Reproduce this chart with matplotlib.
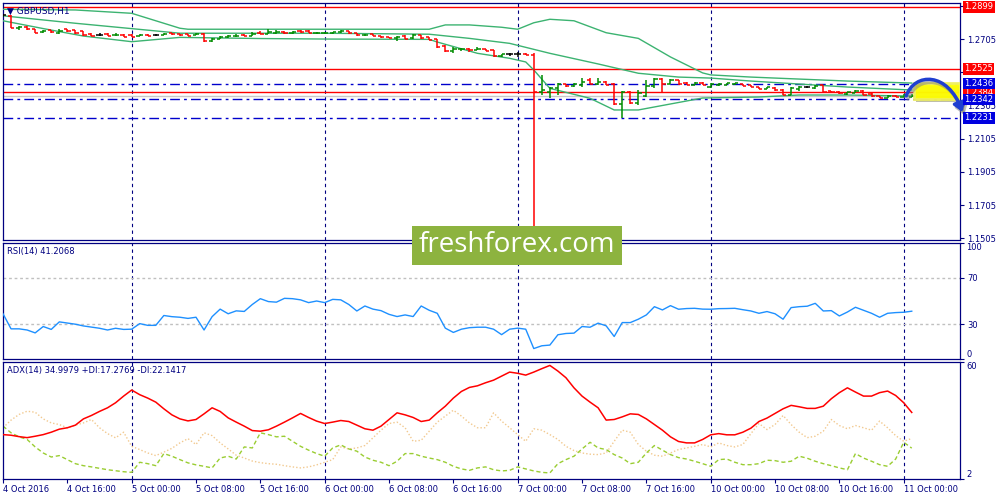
import numpy as np
import matplotlib.pyplot as plt
import matplotlib.transforms as mtransforms
from matplotlib.collections import LineCollection
from matplotlib.patches import Rectangle, FancyArrowPatch
from matplotlib.path import Path

plt.rcParams['font.family'] = ['DejaVu Sans']

# GBPUSD H1, barras desde 4 Oct 08:00 hasta 11 Oct 01:00
opens = [1.2850, 1.2844, 1.2771, 1.2777, 1.2765, 1.2747, 1.2759, 1.2741, 1.2765, 1.2759,
         1.2753, 1.2735, 1.2732, 1.2735, 1.2729, 1.2729, 1.2729, 1.2723, 1.2732, 1.2729,
         1.2729, 1.2741, 1.2735, 1.2735, 1.2729, 1.2735, 1.2693, 1.2705, 1.2717, 1.2723,
         1.2729, 1.2723, 1.2741, 1.2735, 1.2741, 1.2750, 1.2741, 1.2753, 1.2753, 1.2741,
         1.2741, 1.2741, 1.2747, 1.2753, 1.2741, 1.2729, 1.2735, 1.2723, 1.2717, 1.2711,
         1.2723, 1.2711, 1.2729, 1.2717, 1.2705, 1.2663, 1.2633, 1.2645, 1.2645, 1.2639,
         1.2645, 1.2639, 1.2603, 1.2615, 1.2615, 1.2615, 1.2609, 1.2386, 1.2386, 1.2410,
         1.2434, 1.2422, 1.2428, 1.2458, 1.2434, 1.2446, 1.2434, 1.2314, 1.2386, 1.2320,
         1.2362, 1.2422, 1.2464, 1.2434, 1.2458, 1.2440, 1.2428, 1.2440, 1.2416, 1.2428,
         1.2428, 1.2434, 1.2434, 1.2428, 1.2416, 1.2404, 1.2410, 1.2398, 1.2368, 1.2404,
         1.2416, 1.2410, 1.2428, 1.2392, 1.2386, 1.2374, 1.2380, 1.2392, 1.2374, 1.2362,
         1.2350, 1.2362, 1.2356, 1.2356]
highs = [1.2856, 1.2850, 1.2783, 1.2783, 1.2765, 1.2759, 1.2759, 1.2765, 1.2765, 1.2759,
         1.2756, 1.2741, 1.2741, 1.2741, 1.2741, 1.2735, 1.2735, 1.2735, 1.2735, 1.2735,
         1.2741, 1.2741, 1.2735, 1.2735, 1.2741, 1.2741, 1.2711, 1.2723, 1.2729, 1.2735,
         1.2738, 1.2747, 1.2753, 1.2765, 1.2759, 1.2753, 1.2753, 1.2759, 1.2759, 1.2747,
         1.2747, 1.2750, 1.2759, 1.2753, 1.2741, 1.2735, 1.2735, 1.2723, 1.2717, 1.2723,
         1.2729, 1.2735, 1.2729, 1.2720, 1.2705, 1.2669, 1.2657, 1.2651, 1.2654, 1.2657,
         1.2648, 1.2639, 1.2615, 1.2621, 1.2627, 1.2621, 1.2621, 1.2489, 1.2416, 1.2440,
         1.2437, 1.2440, 1.2470, 1.2470, 1.2470, 1.2452, 1.2440, 1.2392, 1.2392, 1.2398,
         1.2458, 1.2470, 1.2470, 1.2464, 1.2458, 1.2446, 1.2446, 1.2446, 1.2440, 1.2440,
         1.2440, 1.2440, 1.2434, 1.2428, 1.2416, 1.2416, 1.2416, 1.2404, 1.2416, 1.2422,
         1.2422, 1.2428, 1.2428, 1.2392, 1.2392, 1.2386, 1.2398, 1.2398, 1.2380, 1.2362,
         1.2368, 1.2368, 1.2374, 1.2374]
lows = [1.2838, 1.2771, 1.2759, 1.2762, 1.2741, 1.2741, 1.2741, 1.2735, 1.2750, 1.2735,
        1.2723, 1.2723, 1.2723, 1.2723, 1.2723, 1.2717, 1.2717, 1.2723, 1.2723, 1.2723,
        1.2729, 1.2729, 1.2726, 1.2723, 1.2729, 1.2687, 1.2687, 1.2705, 1.2714, 1.2717,
        1.2723, 1.2723, 1.2735, 1.2735, 1.2738, 1.2735, 1.2738, 1.2741, 1.2741, 1.2738,
        1.2738, 1.2738, 1.2744, 1.2735, 1.2726, 1.2723, 1.2723, 1.2714, 1.2711, 1.2693,
        1.2708, 1.2708, 1.2708, 1.2699, 1.2651, 1.2627, 1.2621, 1.2633, 1.2627, 1.2639,
        1.2630, 1.2597, 1.2597, 1.2603, 1.2597, 1.2609, 1.1540, 1.2368, 1.2350, 1.2368,
        1.2416, 1.2416, 1.2416, 1.2434, 1.2428, 1.2428, 1.2308, 1.2230, 1.2314, 1.2308,
        1.2356, 1.2410, 1.2380, 1.2434, 1.2428, 1.2428, 1.2428, 1.2428, 1.2410, 1.2422,
        1.2428, 1.2428, 1.2422, 1.2416, 1.2404, 1.2404, 1.2392, 1.2368, 1.2368, 1.2392,
        1.2410, 1.2404, 1.2380, 1.2380, 1.2377, 1.2368, 1.2380, 1.2368, 1.2356, 1.2350,
        1.2350, 1.2356, 1.2356, 1.2356]
closes = [1.2850, 1.2771, 1.2777, 1.2765, 1.2741, 1.2753, 1.2747, 1.2753, 1.2753, 1.2741,
          1.2729, 1.2723, 1.2732, 1.2723, 1.2732, 1.2720, 1.2717, 1.2729, 1.2726, 1.2729,
          1.2735, 1.2735, 1.2729, 1.2726, 1.2735, 1.2693, 1.2705, 1.2717, 1.2723, 1.2726,
          1.2723, 1.2735, 1.2735, 1.2747, 1.2747, 1.2741, 1.2747, 1.2747, 1.2741, 1.2744,
          1.2744, 1.2747, 1.2756, 1.2741, 1.2729, 1.2732, 1.2723, 1.2717, 1.2711, 1.2720,
          1.2708, 1.2729, 1.2711, 1.2699, 1.2657, 1.2633, 1.2645, 1.2648, 1.2639, 1.2645,
          1.2633, 1.2603, 1.2612, 1.2615, 1.2615, 1.2609, 1.2386, 1.2398, 1.2410, 1.2434,
          1.2422, 1.2434, 1.2446, 1.2434, 1.2446, 1.2428, 1.2314, 1.2386, 1.2320, 1.2380,
          1.2422, 1.2464, 1.2434, 1.2458, 1.2434, 1.2428, 1.2440, 1.2428, 1.2434, 1.2434,
          1.2440, 1.2440, 1.2422, 1.2416, 1.2404, 1.2416, 1.2398, 1.2368, 1.2410, 1.2416,
          1.2416, 1.2422, 1.2386, 1.2386, 1.2380, 1.2386, 1.2392, 1.2368, 1.2362, 1.2350,
          1.2362, 1.2356, 1.2368, 1.2362]

# Bandas de Bollinger (indice de barra, precio)
bb_up_x = [0, 9, 16, 22, 23, 40, 53, 55, 58, 62, 64, 66, 68, 71, 75, 79, 83, 87, 88, 93, 99, 105, 113]
bb_up = [1.2884, 1.2880, 1.2860, 1.2770, 1.2764, 1.2764, 1.2764, 1.2790, 1.2790, 1.2776, 1.2764,
         1.2803, 1.2824, 1.2815, 1.2743, 1.2709, 1.2597, 1.2501, 1.2489, 1.2476, 1.2464, 1.2452, 1.2440]
bb_mid_x = [0, 9, 22, 40, 53, 58, 63, 68, 74, 79, 84, 88, 93, 99, 105, 113]
bb_mid = [1.2845, 1.2800, 1.2740, 1.2740, 1.2734, 1.2709, 1.2679, 1.2619, 1.2555, 1.2499,
          1.2476, 1.2470, 1.2452, 1.2434, 1.2416, 1.2398]
bb_low_x = [0, 5, 10, 16, 22, 32, 40, 53, 54, 59, 63, 65, 66, 68, 73, 76, 79, 83, 87, 94, 99, 105, 113]
bb_low = [1.2815, 1.2768, 1.2723, 1.2689, 1.2715, 1.2708, 1.2705, 1.2703, 1.2687, 1.2619, 1.2589,
          1.2567, 1.2519, 1.2408, 1.2348, 1.2278, 1.2278, 1.2314, 1.2350, 1.2356, 1.2368, 1.2368, 1.2362]

rsi = [39.0, 26.0, 26.0, 25.0, 22.5, 28.0, 25.5, 32.0, 31.0, 30.0,
       28.5, 27.5, 26.5, 25.0, 26.5, 25.5, 25.7, 30.5, 29.0, 29.0,
       37.5, 36.5, 36.0, 35.0, 36.0, 25.0, 36.5, 43.0, 39.0, 41.5,
       41.0, 47.0, 52.0, 49.5, 49.0, 52.3, 52.0, 51.0, 48.6, 50.0,
       48.6, 51.4, 51.0, 47.0, 41.4, 45.7, 43.0, 41.7, 38.5, 36.6,
       38.0, 36.6, 45.7, 42.0, 39.4, 26.6, 22.9, 25.7, 27.0, 27.4,
       27.4, 25.7, 21.0, 25.7, 26.6, 25.7, 9.0, 11.4, 12.0, 20.9,
       22.0, 22.3, 28.0, 27.4, 30.9, 28.6, 19.4, 31.4, 31.4, 34.3,
       38.0, 45.1, 42.3, 46.0, 42.9, 43.5, 43.7, 43.0, 42.9, 43.4,
       43.5, 43.7, 42.5, 41.4, 39.4, 40.9, 39.0, 34.3, 44.3, 45.1,
       45.5, 48.0, 41.4, 41.7, 37.1, 40.5, 44.6, 42.0, 39.4, 36.0,
       39.4, 40.0, 40.3, 41.2]

adx = [24.0, 23.7, 23.0, 22.5, 23.2, 24.0, 25.2, 26.7, 27.4, 28.7,
       31.8, 33.5, 35.5, 37.3, 39.8, 43.1, 46.1, 43.8, 42.1, 40.1,
       36.8, 33.8, 31.8, 30.8, 31.5, 34.3, 37.3, 35.5, 32.3, 30.2,
       28.2, 26.0, 25.7, 26.4, 28.2, 30.2, 32.3, 34.5, 32.5, 30.7,
       29.5, 30.2, 31.0, 30.5, 28.7, 26.9, 26.2, 28.2, 31.5, 34.8,
       33.8, 32.5, 30.5, 31.2, 34.8, 38.1, 42.1, 45.4, 47.4, 48.2,
       49.7, 51.0, 53.0, 55.0, 54.4, 53.5, 55.0, 56.7, 58.3, 55.5,
       52.2, 47.2, 43.1, 40.1, 37.3, 31.2, 31.5, 32.8, 34.3, 34.0,
       31.8, 29.0, 26.2, 22.9, 20.6, 19.9, 19.9, 21.6, 23.9, 24.5,
       23.9, 23.9, 25.2, 27.2, 30.5, 32.2, 34.5, 36.8, 38.5, 37.8,
       37.0, 37.0, 38.1, 41.8, 44.8, 47.2, 45.1, 43.1, 43.1, 44.8,
       45.6, 43.4, 39.8, 35.0]
plus_di = [28.2, 24.9, 22.9, 21.6, 17.9, 14.9, 12.9, 13.6, 11.6, 9.6,
           8.6, 8.0, 7.3, 6.6, 6.1, 5.6, 5.3, 10.3, 9.6, 8.6,
           14.6, 13.3, 11.6, 10.0, 9.0, 8.3, 7.5, 12.4, 13.3, 11.9,
           17.9, 17.4, 24.9, 24.0, 22.9, 23.2, 20.7, 18.2, 16.3, 14.6,
           13.3, 17.4, 18.9, 16.9, 15.8, 12.9, 11.3, 10.3, 8.6, 10.8,
           14.6, 14.6, 13.3, 12.4, 11.6, 10.3, 8.3, 7.0, 6.3, 7.5,
           8.0, 6.6, 6.0, 6.3, 8.0, 7.0, 6.0, 5.3, 5.0, 9.6,
           11.6, 13.3, 16.9, 20.2, 17.4, 16.6, 14.1, 12.4, 9.6, 10.3,
           14.9, 18.6, 16.3, 14.1, 12.6, 11.9, 10.8, 9.6, 8.3, 11.6,
           11.9, 10.3, 9.1, 9.1, 9.6, 11.3, 11.1, 10.3, 10.8, 13.3,
           12.3, 10.8, 9.6, 8.6, 7.5, 6.6, 14.6, 12.4, 10.8, 9.1,
           8.3, 11.9, 20.2, 17.3]
minus_di = [27.4, 31.2, 34.0, 35.6, 35.1, 31.8, 29.8, 29.0, 27.4, 28.7,
            29.8, 31.5, 27.4, 24.5, 22.4, 25.2, 18.2, 16.6, 14.9, 13.6,
            15.3, 17.2, 19.9, 22.0, 19.1, 24.9, 23.5, 19.9, 16.9, 13.8,
            12.4, 10.9, 10.1, 9.6, 9.3, 8.6, 8.0, 7.5, 8.0, 9.0,
            10.3, 11.6, 17.9, 16.9, 17.4, 18.6, 22.4, 26.2, 29.5, 30.2,
            27.4, 20.7, 21.2, 25.7, 30.2, 33.2, 36.1, 33.2, 29.8, 27.4,
            27.4, 34.8, 30.7, 27.4, 24.0, 20.7, 26.9, 26.2, 24.0, 21.6,
            18.2, 16.1, 14.9, 14.3, 14.1, 14.9, 20.7, 26.2, 25.2, 19.1,
            15.8, 13.8, 13.3, 14.9, 16.6, 17.4, 18.2, 19.1, 17.9, 19.9,
            18.6, 17.9, 19.1, 24.5, 29.5, 26.5, 29.0, 33.5, 29.0, 25.2,
            22.5, 23.2, 25.7, 31.5, 28.5, 26.9, 28.5, 27.4, 26.2, 30.7,
            27.4, 23.5, 20.7, 22.1]

time_idx = [0, 8, 16, 24, 32, 40, 48, 56, 64, 72, 80, 88, 96, 104, 112]
time_labels = ['4 Oct 2016', '4 Oct 16:00', '5 Oct 00:00', '5 Oct 08:00', '5 Oct 16:00',
               '6 Oct 00:00', '6 Oct 08:00', '6 Oct 16:00', '7 Oct 00:00', '7 Oct 08:00',
               '7 Oct 16:00', '10 Oct 00:00', '10 Oct 08:00', '10 Oct 16:00', '11 Oct 00:00']
day_idx = [16, 40, 64, 88, 112]

price_ticks = [1.2905, 1.2705, 1.2505, 1.2305, 1.2105, 1.1905, 1.1705, 1.1505]
# 1.2905 y 1.2505 quedan tapadas por las etiquetas de nivel
price_tick_labels = ['', '1.2705', '', '1.2305', '1.2105', '1.1905', '1.1705', '1.1505']
red_levels = [1.2899, 1.2525, 1.2384]
blue_levels = [1.2436, 1.2342, 1.2231]
bid = 1.2362

# pronostico dibujado a mano (indice de barra, precio)
forecast_path = [(112.3, 1.2362), (113.4, 1.2507), (117.5, 1.2507), (119.3, 1.2266)]
forecast_box = (113.3, 1.2344, 119.0, 1.2440)

navy = '#000080'
n = len(closes)
xmax = 119.0

fig = plt.figure(figsize=(10, 5), dpi=100)


def panel(left, top, right, bottom):
    a = fig.add_axes([left / 1000, 1 - bottom / 500, (right - left) / 1000, (bottom - top) / 500])
    for s in a.spines.values():
        s.set_color(navy)
        s.set_linewidth(0.9)
    a.set_xlim(0, xmax)
    a.yaxis.tick_right()
    a.tick_params(axis='y', direction='out', length=3, width=0.8, pad=2,
                  labelsize=6, colors=navy)
    a.set_xticks([])
    for d in day_idx:
        a.axvline(d, color=navy, lw=0.8, ls=(0, (3, 3)), zorder=1)
    return a


ax = panel(3, 3, 960, 240)
ax_rsi = panel(3, 243, 960, 359)
ax_adx = panel(3, 362, 960, 479)

# panel de precio
ax.set_ylim(1.1495, 1.2922)
ax.set_yticks(price_ticks, price_tick_labels)
ax.axhline(bid, color='#c8c8c8', lw=1, zorder=1)
for lvl in red_levels:
    ax.axhline(lvl, color='red', lw=1, zorder=2)
for lvl in blue_levels:
    ax.axhline(lvl, color='#0000cc', lw=1, ls=(0, (7, 3, 2, 3)), zorder=2)

ax.plot(bb_up_x, bb_up, color='#3CB371', lw=1, zorder=3)
ax.plot(bb_mid_x, bb_mid, color='#3CB371', lw=1, zorder=3)
ax.plot(bb_low_x, bb_low, color='#3CB371', lw=1, zorder=3)

segs, cols = [], []
for i in range(n):
    o, h, l, c = opens[i], highs[i], lows[i], closes[i]
    col = '#008c00' if c > o else ('#ff0000' if c < o else 'black')
    segs += [[(i, l), (i, h)], [(i - 0.4, o), (i, o)], [(i, c), (i + 0.4, c)]]
    cols += [col] * 3
ax.add_collection(LineCollection(segs, colors=cols, linewidths=1.1, zorder=4))

# etiquetas de niveles en el eje de precios
tr = mtransforms.blended_transform_factory(ax.transAxes, ax.transData)
for lvl in red_levels:
    ax.text(1.0045, lvl, f'{lvl:.4f}', transform=tr, color='white', fontsize=6,
            va='center', ha='left', zorder=10, clip_on=False,
            bbox=dict(boxstyle='square,pad=0.15', fc='#ff0000', ec='none'))
for lvl in blue_levels:
    ax.text(1.0045, lvl, f'{lvl:.4f}', transform=tr, color='white', fontsize=6,
            va='center', ha='left', zorder=11, clip_on=False,
            bbox=dict(boxstyle='square,pad=0.15', fc='#0000e0', ec='none'))

ax.text(0.004, 0.985, '\u25bc GBPUSD,H1', transform=ax.transAxes, fontsize=6.5,
        color=navy, va='top', ha='left')

# zona resaltada y flecha de pronostico
bx0, by0, bx1, by1 = forecast_box
shadow = mtransforms.offset_copy(ax.transData, fig=fig, x=2, y=-3, units='dots')
ax.add_patch(Rectangle((bx0, by0), bx1 - bx0, by1 - by0, transform=shadow,
                       fc='#707040', ec='none', alpha=0.45, zorder=5))
ax.add_patch(Rectangle((bx0, by0), bx1 - bx0, by1 - by0, fc='#ffff00', ec='#f0f060',
                       lw=2, alpha=0.95, zorder=6))
arrow_path = Path(forecast_path, [Path.MOVETO, Path.CURVE4, Path.CURVE4, Path.CURVE4])
ax.add_patch(FancyArrowPatch(path=arrow_path, transform=shadow, arrowstyle='-|>,head_length=5,head_width=3.5',
                             color='#808080', alpha=0.5, lw=2.5, zorder=7, clip_on=False))
ax.add_patch(FancyArrowPatch(path=arrow_path, arrowstyle='-|>,head_length=5,head_width=3.5',
                             color='#1f3fd0', lw=2.5, zorder=8, clip_on=False))

# RSI
ax_rsi.set_ylim(0, 100)
ax_rsi.plot(range(n), rsi, color='#1E90FF', lw=1, zorder=3)
for lvl in [70, 30]:
    ax_rsi.axhline(lvl, color='#c0c0c0', lw=1, ls=(0, (2, 2)), zorder=1)
ax_rsi.set_yticks([100, 70, 30, 0], ['', '70', '30', ''])
tr_rsi = mtransforms.blended_transform_factory(ax_rsi.transAxes, ax_rsi.transData)
ax_rsi.text(1.0065, 100, '100', transform=tr_rsi, fontsize=6, color=navy, va='top', ha='left')
ax_rsi.text(1.0065, 0, '0', transform=tr_rsi, fontsize=6, color=navy, va='bottom', ha='left')
ax_rsi.text(0.004, 0.965, 'RSI(14) 41.2068', transform=ax_rsi.transAxes, fontsize=6,
            color=navy, va='top', ha='left')

# ADX
ax_adx.set_ylim(2, 60)
ax_adx.plot(range(n), minus_di, color='#f2c98f', lw=1, ls=(0, (1, 1.5)), zorder=2)
ax_adx.plot(range(n), plus_di, color='#9ACD32', lw=1, ls=(0, (3, 2)), zorder=2)
ax_adx.plot(range(n), adx, color='#ff0000', lw=1.1, zorder=3)
ax_adx.set_yticks([60, 2], ['', ''])
tr_adx = mtransforms.blended_transform_factory(ax_adx.transAxes, ax_adx.transData)
ax_adx.text(1.0065, 60, '60', transform=tr_adx, fontsize=6, color=navy, va='top', ha='left')
ax_adx.text(1.0065, 2, '2', transform=tr_adx, fontsize=6, color=navy, va='bottom', ha='left')
ax_adx.text(0.004, 0.965, 'ADX(14) 34.9979 +DI:17.2769 -DI:22.1417', transform=ax_adx.transAxes,
            fontsize=6, color=navy, va='top', ha='left')
ax_adx.set_xticks(time_idx, time_labels, ha='left', fontsize=6, color=navy)
ax_adx.tick_params(axis='x', direction='out', length=3, width=0.8, pad=1, colors=navy)

# marca de agua
fig.add_artist(Rectangle((412 / 1000, 1 - 265 / 500), 210 / 1000, 39 / 500,
                         transform=fig.transFigure, fc='#8db33f', ec='none', zorder=20))
fig.text(517 / 1000, 1 - 245 / 500, 'freshforex.com', color='white', fontsize=20,
         family=['Open Sans', 'DejaVu Sans'], ha='center', va='center', zorder=21)

fig.savefig('out.png', dpi=100)
